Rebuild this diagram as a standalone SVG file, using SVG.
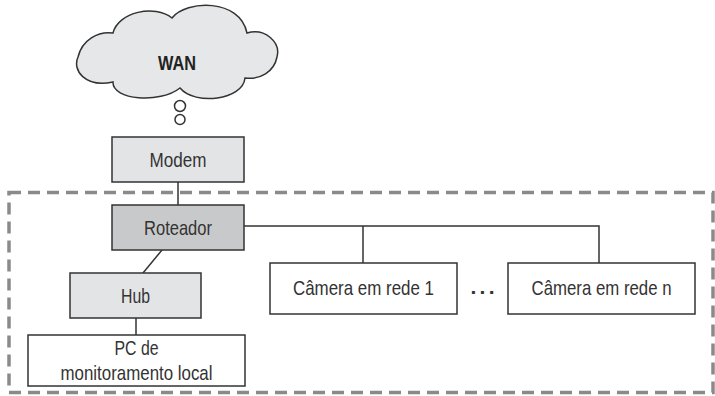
<svg xmlns="http://www.w3.org/2000/svg" width="715" height="396" viewBox="0 0 715 396">
<style>
  .box { stroke: #333; stroke-width: 1.5; }
  .white { fill: #ffffff; }
  .light { fill: #e3e4e5; }
  .dark { fill: #c8c9ca; }
  .lbl { font-family: "Liberation Sans", Arial, sans-serif; font-size: 21px; fill: #333; text-anchor: middle; }
  .conn { stroke: #333; stroke-width: 1.5; fill: none; }
</style>
<rect x="9" y="192.5" width="704" height="200" fill="none" stroke="#8a8a8a" stroke-width="3.5" stroke-dasharray="12 7"/>
<g id="connectors">
  <line class="conn" x1="178" y1="182" x2="178" y2="205"/>
  <line class="conn" x1="162" y1="250" x2="143" y2="273"/>
  <line class="conn" x1="136" y1="318" x2="136" y2="335"/>
  <polyline class="conn" points="244,226 599,226 599,263"/>
  <line class="conn" x1="363" y1="226" x2="363" y2="263"/>
</g>
<g id="wan">
  <path class="box" fill="#e6e7e8" d="M113,33 C118,12 155,4 172,18 C186,0 240,-2 247,33 C265,28 281,42 277,57 C274,72 260,80 245,78 C243,100 195,106 180,88 C160,104 112,100 113,82 C85,88 72,70 78,57 C82,40 98,31 113,33 Z"/>
  <text class="lbl" x="177" y="70" textLength="38" lengthAdjust="spacingAndGlyphs" style="font-weight:bold;fill:#222">WAN</text>
  <circle class="box" fill="#fff" cx="180" cy="106" r="5.5"/>
  <circle class="box" fill="#fff" cx="180" cy="119.5" r="5"/>
</g>
<g id="modem">
  <rect class="box light" x="112" y="137" width="132" height="45"/>
  <text class="lbl" x="178" y="167" textLength="57" lengthAdjust="spacingAndGlyphs">Modem</text>
</g>
<g id="roteador">
  <rect class="box dark" x="112" y="205" width="132" height="45"/>
  <text class="lbl" x="178" y="235" textLength="68" lengthAdjust="spacingAndGlyphs">Roteador</text>
</g>
<g id="hub">
  <rect class="box light" x="70" y="273" width="131" height="45"/>
  <text class="lbl" x="135.5" y="303" textLength="29" lengthAdjust="spacingAndGlyphs">Hub</text>
</g>
<g id="pc">
  <rect class="box white" x="28" y="335" width="217" height="51"/>
  <text class="lbl" x="136.5" y="355" textLength="44" lengthAdjust="spacingAndGlyphs">PC de</text>
  <text class="lbl" x="136.5" y="380" textLength="152" lengthAdjust="spacingAndGlyphs">monitoramento local</text>
</g>
<g id="camera1">
  <rect class="box white" x="270" y="263" width="187" height="51"/>
  <text class="lbl" x="363.5" y="295" textLength="141" lengthAdjust="spacingAndGlyphs">Câmera em rede 1</text>
</g>
<g id="ellipsis">
  <text class="lbl" x="482.5" y="294" textLength="24" lengthAdjust="spacing" style="font-weight:bold">...</text>
</g>
<g id="cameran">
  <rect class="box white" x="508" y="263" width="187" height="51"/>
  <text class="lbl" x="601.5" y="295" textLength="140" lengthAdjust="spacingAndGlyphs">Câmera em rede n</text>
</g>
</svg>
